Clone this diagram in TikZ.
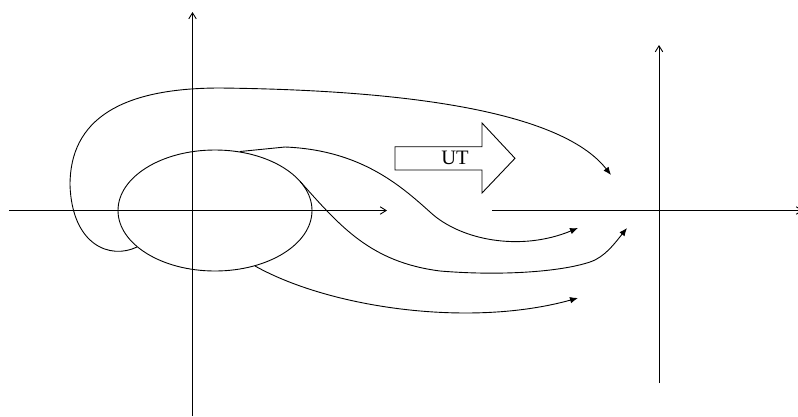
\documentclass[tikz,border=0pt]{standalone}
\usepackage{fontspec}
\setmainfont{Liberation Serif}
\usetikzlibrary{arrows.meta,shapes.geometric}
\begin{document}
\begin{tikzpicture}[x=1pt,y=-1pt,
  axis/.style={line width=0.9pt,-{Straight Barb[length=6pt,width=7.5pt]}},
  flow/.style={line width=0.9pt,-{Latex[length=8pt,width=6.5pt]}},
  shapeline/.style={line width=0.9pt}]
\useasboundingbox (0,0) rectangle (798,416);
% left axes
\coordinate (lxs) at (9,210.5);
\coordinate (lxe) at (387,210.5);
\coordinate (lys) at (192.5,416);
\coordinate (lye) at (192.5,12);
\draw[axis] (lxs) -- (lxe);
\draw[axis] (lys) -- (lye);
% right axes
\coordinate (rxs) at (492,210.5);
\coordinate (rxe) at (803,210.5);
\coordinate (rys) at (659,383);
\coordinate (rye) at (659,45);
\draw[axis] (rxs) -- (rxe);
\draw[axis] (rys) -- (rye);
% ellipse
\node[ellipse,draw,shapeline,minimum width=194pt,minimum height=121pt,inner sep=0pt] (ell) at (215,210.5) {};
% UT arrow
\draw[shapeline] (395,146.7) -- (482,146.7) -- (482,123) -- (515,158.3) -- (482,193) -- (482,170) -- (395,170) -- cycle;
\node[inner sep=0pt,font=\fontsize{20.5}{22}\selectfont] (ut) at (455,157.5) {UT};
% flow curves
\coordinate (a0) at (137,247);
\coordinate (a1) at (70,185);
\coordinate (a2) at (220,88);
\coordinate (a3) at (611,175);
\draw[flow] (a0) .. controls (110,260) and (72,245) .. (a1)
  .. controls (70,120) and (120,88) .. (a2)
  .. controls (400,90) and (560,110) .. (a3);
\coordinate (b0) at (240,151.5);
\coordinate (b1) at (285,147);
\coordinate (b2) at (430,212);
\coordinate (b3) at (578,228);
\draw[flow] (b0) -- (b1) .. controls (360,150) and (400,185) .. (b2)
  .. controls (460,240) and (520,252) .. (b3);
\coordinate (c0) at (300,181.3);
\coordinate (c1) at (440,271);
\coordinate (c2) at (590,262);
\coordinate (c3) at (627,228);
\draw[flow] (c0) .. controls (340,226) and (370,262) .. (c1)
  .. controls (500,276) and (560,272) .. (c2)
  .. controls (605,257) and (615,243) .. (c3);
\coordinate (d0) at (255,266);
\coordinate (d1) at (578,298);
\draw[flow] (d0) .. controls (330,308) and (470,328) .. (d1);
\end{tikzpicture}
\end{document}
